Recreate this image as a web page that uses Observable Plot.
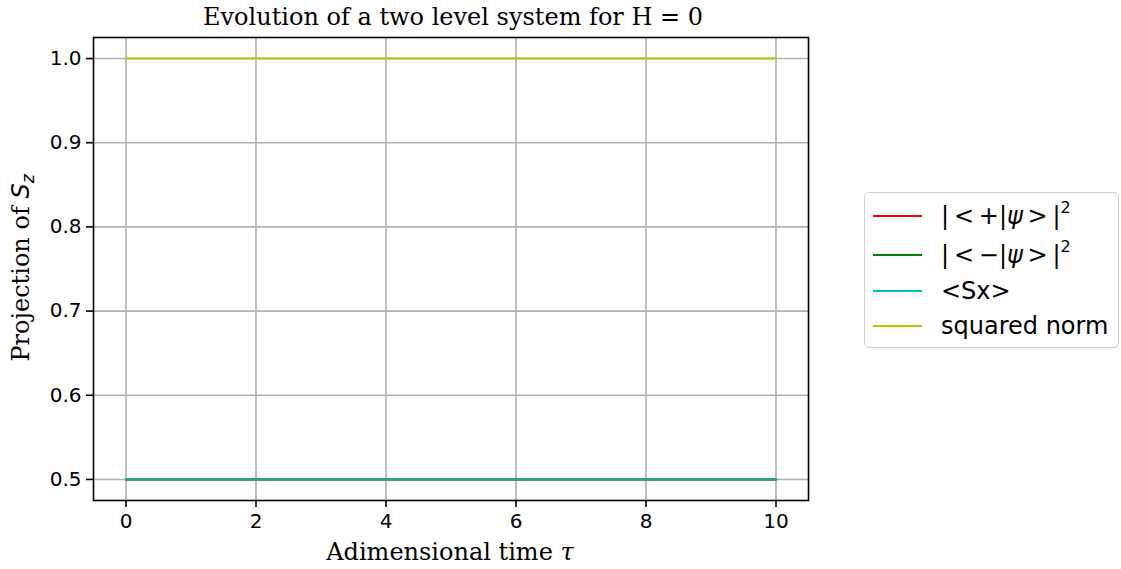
<!DOCTYPE html>
<html>
<head>
<meta charset="utf-8">
<script src="https://cdn.jsdelivr.net/npm/d3@7"></script>
<script src="https://cdn.jsdelivr.net/npm/@observablehq/plot@0.6"></script>
<style>
  html, body { margin: 0; padding: 0; background: #fff; }
  #wrap { position: relative; width: 1121px; height: 569px; overflow: hidden; }
  #wrap svg { position: absolute; left: 0; top: 0; }
  .serif { font-family: "DejaVu Serif", serif; font-size: 24px; color: #000; position: absolute; white-space: nowrap; }
  #title { left: 0; width: 906px; top: 3px; text-align: center; }
  #xlabel { left: 0; width: 900px; top: 538px; text-align: center; }
  #ylabel { left: 21px; top: 268px; transform: translate(-50%, -50%) rotate(-90deg); }
  .math { font-family: "DejaVu Sans", sans-serif; font-style: oblique; }
  #legend { position: absolute; left: 864px; top: 192px; width: 255px; height: 156px;
            border: 1.5px solid #d0d0d0; border-radius: 5px; background: #fff; box-sizing: border-box;
            font-family: "DejaVu Sans", sans-serif; font-size: 24px; color: #000; }
  .item { position: absolute; left: 0; height: 30px; width: 100%; }
  .swatch { position: absolute; left: 8px; width: 49px; height: 0; border-top: 2px solid; top: 14px; }
  .lab { position: absolute; left: 76px; top: 0px; line-height: 30px; }
  sup { font-size: 16px; vertical-align: 0; position: relative; top: -11px; }
</style>
</head>
<body>
<div id="wrap">
  <div id="title" class="serif">Evolution of a two level system for H = 0</div>
  <div id="xlabel" class="serif">Adimensional time <span style="font-style:italic">τ</span></div>
  <div id="ylabel" class="serif">Projection of <span class="math">S</span><span class="math" style="font-size:17px;position:relative;top:5px;">z</span></div>
  <div id="legend"></div>
</div>
<script>
// ---- data ----
const times = [0, 10];
const plusProb = [0.5, 0.5];     // |<+|psi>|^2
const minusProb = [0.5, 0.5];    // |<-|psi>|^2
const sxValues = [0.5, 0.5];     // <Sx>
const squaredNorm = [1.0, 1.0];  // squared norm
const seriesNames = ["plus", "minus", "sx", "norm"];
const seriesLabels = [
  "|&thinsp;&lt;&thinsp;+|<i>ψ</i>&thinsp;&gt;&thinsp;|<sup>2</sup>",
  "|&thinsp;&lt;&thinsp;−|<i>ψ</i>&thinsp;&gt;&thinsp;|<sup>2</sup>",
  "&lt;Sx&gt;",
  "squared norm"
];
const seriesColors = ["#ff0000", "#008000", "#00bfbf", "#bfbf00"];
const xTicks = [0, 2, 4, 6, 8, 10];
const yTicks = [0.5, 0.6, 0.7, 0.8, 0.9, 1.0];

const allValues = [plusProb, minusProb, sxValues, squaredNorm];
const rows = [];
seriesNames.forEach((s, i) => {
  times.forEach((t, j) => rows.push({series: s, t, v: allValues[i][j]}));
});

const chart = Plot.plot({
  width: 1121,
  height: 569,
  marginLeft: 93,
  marginRight: 313,
  marginTop: 37,
  marginBottom: 69,
  style: { fontFamily: "DejaVu Sans, sans-serif", fontSize: "20px", color: "#000", background: "transparent" },
  x: { domain: [-0.5, 10.5], label: null },
  y: { domain: [0.475, 1.025], label: null },
  color: { domain: seriesNames, range: seriesColors },
  marks: [
    Plot.gridX(xTicks, { stroke: "#b0b0b0", strokeOpacity: 1, strokeWidth: 1.6 }),
    Plot.gridY(yTicks, { stroke: "#b0b0b0", strokeOpacity: 1, strokeWidth: 1.6 }),
    Plot.line(rows.filter(d => d.series === "plus"), { x: "t", y: "v", stroke: "series", strokeWidth: 2 }),
    Plot.line(rows.filter(d => d.series === "minus"), { x: "t", y: "v", stroke: "series", strokeWidth: 2 }),
    Plot.line(rows.filter(d => d.series === "sx"), { x: "t", y: "v", stroke: "series", strokeWidth: 2, strokeOpacity: 0.8 }),
    Plot.line(rows.filter(d => d.series === "norm"), { x: "t", y: "v", stroke: "series", strokeWidth: 2 }),
    Plot.axisX(xTicks, { tickSize: 7, tickPadding: 6, strokeWidth: 1.6, fontSize: 20, label: null }),
    Plot.axisY(yTicks, { tickSize: 7, tickPadding: 5, strokeWidth: 1.6, fontSize: 20, tickFormat: d3.format(".1f"), label: null }),
    Plot.frame({ stroke: "#000", strokeWidth: 1.6 })
  ]
});
document.getElementById("wrap").prepend(chart);

// legend
const legend = document.getElementById("legend");
const tops = [8, 47, 83, 118];
seriesNames.forEach((s, i) => {
  const it = document.createElement("div");
  it.className = "item";
  it.style.top = tops[i] + "px";
  it.innerHTML = `<div class="swatch" style="border-color:${seriesColors[i]}"></div><div class="lab">${seriesLabels[i]}</div>`;
  legend.appendChild(it);
});
</script>
</body>
</html>
